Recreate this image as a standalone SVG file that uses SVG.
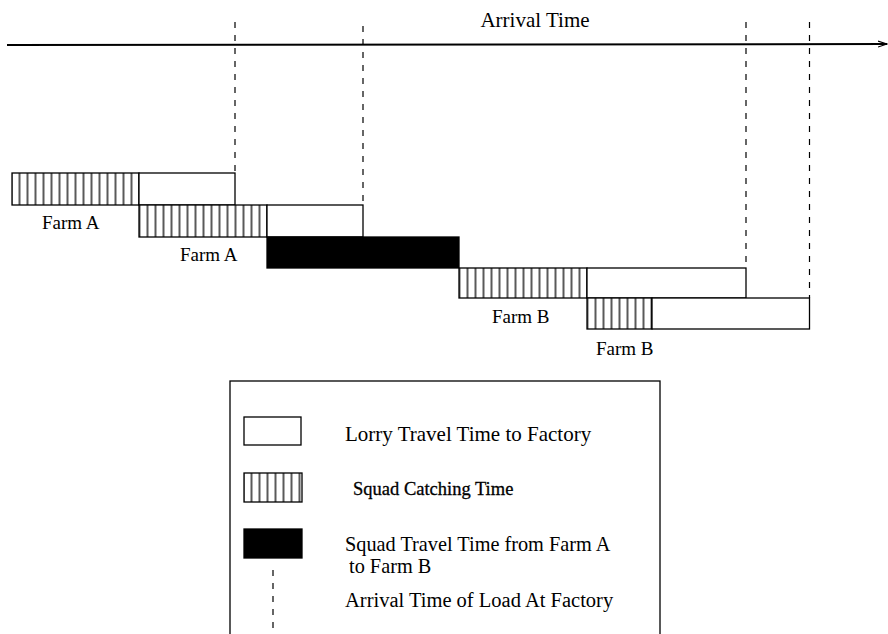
<svg xmlns="http://www.w3.org/2000/svg" width="888" height="634" viewBox="0 0 888 634">
<style>
  .t { font-family: "Liberation Serif", "Times New Roman", serif; fill: #000; }
  .lbl { font-size: 19px; }
  .leg { font-size: 21px; }
  .box { stroke: #000; stroke-width: 1.3; }
  .white { fill: #fff; }
  .hatch { fill: url(#vh); }
  .black { fill: #000; }
  .dash { stroke: #000; stroke-width: 1.2; stroke-dasharray: 6 7; fill: none; }
</style>
<defs>
  <pattern id="vh" patternUnits="userSpaceOnUse" x="-0.5" y="0" width="8" height="8">
    <rect width="8" height="8" fill="#fff"/>
    <line x1="4" y1="0" x2="4" y2="8" stroke="#000" stroke-width="1.3"/>
  </pattern>
  <marker id="arr" markerWidth="10" markerHeight="8" refX="9" refY="4" orient="auto" markerUnits="userSpaceOnUse">
    <path d="M0,1 L9,4 L0,7" fill="none" stroke="#000" stroke-width="1.2"/>
  </marker>
</defs>

<g id="axis">
  <line x1="7" y1="45" x2="887" y2="44" stroke="#000" stroke-width="2" marker-end="url(#arr)"/>
  <text class="t" x="535" y="27" font-size="21" text-anchor="middle">Arrival Time</text>
</g>

<g id="connectors">
  <line class="dash" x1="235" y1="22" x2="235" y2="173"/>
  <line class="dash" x1="363" y1="26" x2="363" y2="205"/>
  <line class="dash" x1="746" y1="22" x2="746" y2="268"/>
  <line class="dash" x1="809.5" y1="22" x2="809.5" y2="298"/>
</g>

<g id="farmA1">
  <rect class="box hatch" x="12" y="173" width="127" height="32"/>
  <rect class="box white" x="139" y="173" width="96" height="32"/>
  <text class="t lbl" x="42" y="229">Farm A</text>
</g>

<g id="farmA2">
  <rect class="box hatch" x="139" y="205" width="128" height="32"/>
  <rect class="box white" x="267" y="205" width="96" height="32"/>
  <text class="t lbl" x="180" y="261">Farm A</text>
</g>

<g id="travelAB">
  <rect class="box black" x="267" y="237" width="192" height="31"/>
</g>

<g id="farmB1">
  <rect class="box hatch" x="459" y="268" width="128" height="30"/>
  <rect class="box white" x="587" y="268" width="159" height="30"/>
  <text class="t lbl" x="492" y="323">Farm B</text>
</g>

<g id="farmB2">
  <rect class="box hatch" x="587" y="298" width="65" height="31"/>
  <rect class="box white" x="652" y="298" width="157.5" height="31"/>
  <text class="t lbl" x="596" y="355">Farm B</text>
</g>

<g id="legend">
  <rect x="230" y="381" width="430" height="270" fill="none" stroke="#000" stroke-width="1.3"/>
  <rect class="box white" x="244" y="417" width="57" height="28"/>
  <text class="t leg" x="345" y="441">Lorry Travel Time to Factory</text>
  <rect class="box hatch" x="244" y="473" width="58" height="29"/>
  <text class="t" x="353" y="495" font-size="18.5" stroke="#000" stroke-width="0.3">Squad Catching Time</text>
  <rect class="box black" x="244" y="529" width="58" height="29"/>
  <text class="t" x="345" y="551" font-size="20.3">Squad Travel Time from Farm A</text>
  <text class="t" x="349" y="573" font-size="20.3">to Farm B</text>
  <line class="dash" x1="273" y1="570" x2="273" y2="634" stroke-dasharray="4 8"/>
  <text class="t" x="345" y="607" font-size="20.5">Arrival Time of Load At Factory</text>
</g>
</svg>
